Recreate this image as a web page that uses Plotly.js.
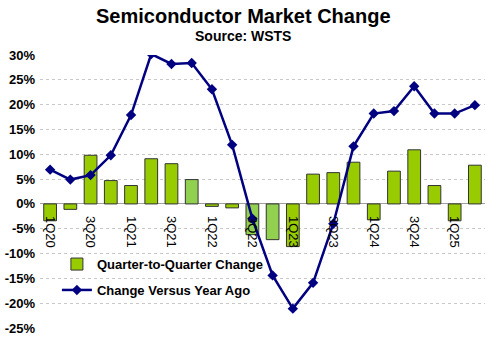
<!DOCTYPE html>
<html>
<head>
<meta charset="utf-8">
<script src="https://cdn.plot.ly/plotly-3.0.1.min.js"></script>
<style>html,body{margin:0;padding:0;background:#fff;}#chart{width:500px;height:355px;}</style>
</head>
<body>
<div id="chart"></div>
<script>
const quarters = ["1Q20","2Q20","3Q20","4Q20","1Q21","2Q21","3Q21","4Q21","1Q22","2Q22","3Q22","4Q22","1Q23","2Q23","3Q23","4Q23","1Q24","2Q24","3Q24","4Q24","1Q25","2Q25"];
const qoqChange = [-3.4,-1.1,9.8,4.7,3.7,9.1,8.1,4.9,-0.5,-0.8,-6.2,-7.2,-8.6,6.0,6.3,8.4,-3.2,6.6,10.9,3.7,-3.4,7.8];
const yoyChange = [6.9,4.9,5.8,9.8,17.9,30.2,28.2,28.4,23.1,11.9,-3.0,-14.4,-21.1,-15.9,-4.0,11.6,18.2,18.7,23.7,18.2,18.2,19.9];
const lightQuarters = ["4Q21","3Q22","4Q22"];
const tickLabels = ["1Q20","3Q20","1Q21","3Q21","1Q22","3Q22","1Q23","3Q23","1Q24","3Q24","1Q25"];
const yTicks = [-25,-20,-15,-10,-5,0,5,10,15,20,25,30];
const titleText = "Semiconductor Market Change";
const subtitleText = "Source: WSTS";

const FONT = "Liberation Sans, Arial, sans-serif";
const barColors = quarters.map(q => lightQuarters.includes(q) ? "#92d050" : "#99cc00");

const traces = [
  {
    type: "bar",
    x: quarters,
    y: qoqChange,
    name: "Quarter-to-Quarter Change",
    legendgroup: "a",
    marker: {color: barColors, line: {color: "#333333", width: 1}},
    hoverinfo: "x+y"
  },
  {
    type: "scatter",
    mode: "lines+markers",
    x: quarters,
    y: yoyChange,
    name: "Change Versus Year Ago",
    legendgroup: "b",
    line: {color: "#000080", width: 2.5},
    marker: {symbol: "diamond", size: 8, color: "#000080"}
  }
];

const plotLeft = 40, plotRight = 485, plotW = plotRight - plotLeft;
const plotTop = 55, plotBottom = 328, plotH = plotBottom - plotTop;
const layout = {
  width: 500,
  height: 355,
  margin: {l: plotLeft, r: 500 - plotRight, t: plotTop, b: 355 - plotBottom},
  paper_bgcolor: "#ffffff",
  plot_bgcolor: "#ffffff",
  bargap: 0.37,
  showlegend: true,
  annotations: [
    {text: titleText, xref: "paper", yref: "paper", x: (243 - plotLeft) / plotW, xanchor: "center",
     y: (plotBottom - 16) / plotH, yanchor: "middle", showarrow: false,
     font: {family: FONT, size: 20, color: "#000000", weight: "bold"}},
    {text: subtitleText, xref: "paper", yref: "paper", x: (243 - plotLeft) / plotW, xanchor: "center",
     y: (plotBottom - 36) / plotH, yanchor: "middle", showarrow: false,
     font: {family: FONT, size: 14, color: "#000000", weight: "bold"}}
  ],
  xaxis: {
    type: "category",
    categoryorder: "array",
    categoryarray: quarters,
    tickmode: "array",
    tickvals: tickLabels,
    ticktext: tickLabels,
    tickangle: 90,
    anchor: "free",
    position: 25/55,
    showline: false,
    showgrid: false,
    zeroline: false,
    ticks: "",
    ticklabelstandoff: 11,
    tickfont: {family: FONT, size: 13, color: "#000000"},
    range: [-0.5, quarters.length - 0.5]
  },
  yaxis: {
    range: [-25, 30],
    tickmode: "array",
    tickvals: yTicks,
    ticktext: yTicks.map(v => v + "%"),
    tickfont: {family: FONT, size: 13, color: "#000000", weight: "bold"},
    showgrid: true,
    gridcolor: "#c8c8c8",
    griddash: "dot",
    gridwidth: 1,
    zeroline: true,
    zerolinecolor: "#a0a0a0",
    zerolinewidth: 1,
    showline: false,
    ticks: "",
    ticklabelstandoff: 4
  },
  legend: {
    x: 0.038, xanchor: "left",
    y: 0.289, yanchor: "top",
    bgcolor: "rgba(0,0,0,0)",
    traceorder: "grouped",
    tracegroupgap: 6,
    font: {family: FONT, size: 13, color: "#000000", weight: "bold"},
    itemwidth: 30
  }
};

Plotly.newPlot("chart", traces, layout, {displayModeBar: false, staticPlot: true});
</script>
</body>
</html>
